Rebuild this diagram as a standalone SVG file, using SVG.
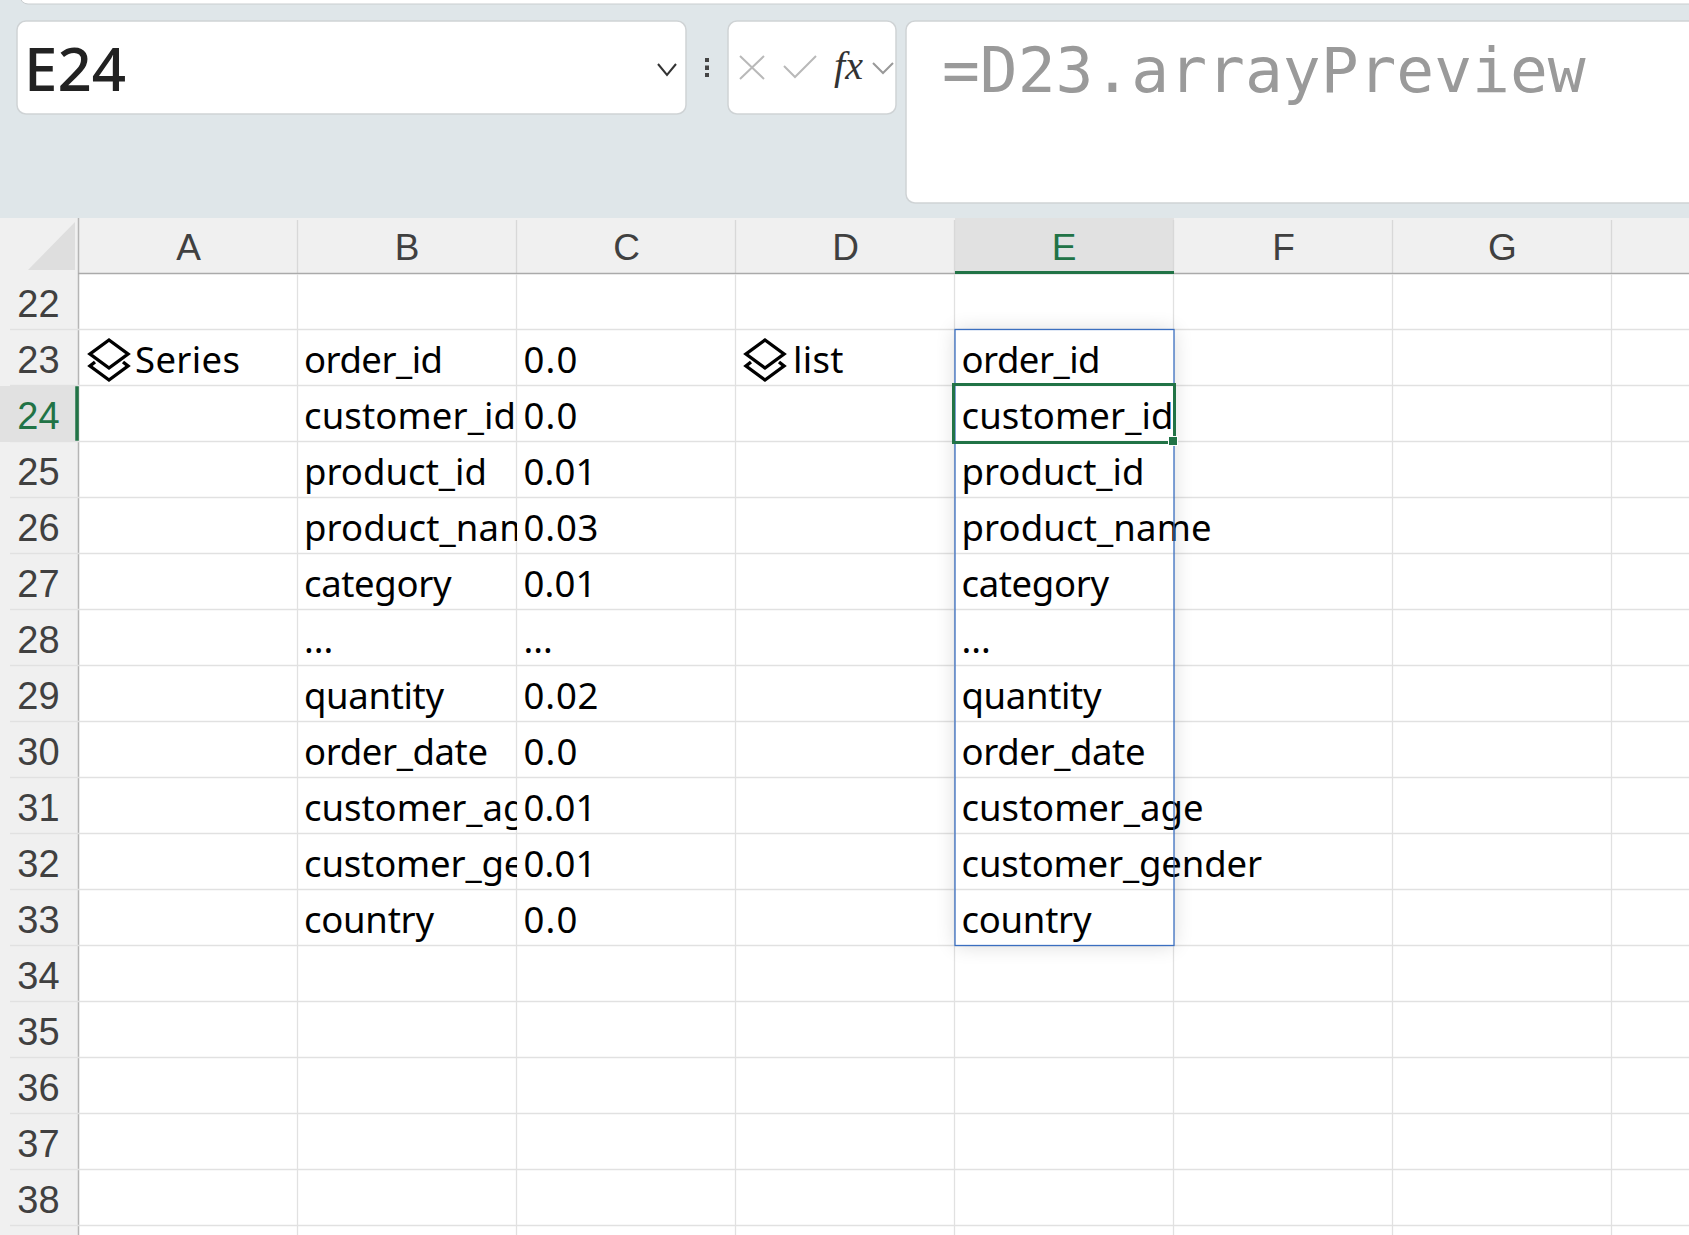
<svg xmlns="http://www.w3.org/2000/svg" width="1689" height="1235" viewBox="0 0 1689 1235">
<style>
.box{fill:#fff;stroke:#cfd3d5;stroke-width:1.5}
.g{stroke:#e1e1e1;stroke-width:1.3;fill:none}
.hd{font:37px "Liberation Sans",Arial,sans-serif;fill:#404040;text-anchor:middle}
.rn{font:38px "Liberation Sans",Arial,sans-serif;fill:#404040;text-anchor:middle}
.t{font:36.5px "Noto Sans",sans-serif;fill:#000}
.ic{fill:none;stroke:#000;stroke-width:3.4}
</style>
<defs>
<clipPath id="cb"><rect x="298" y="330" width="219" height="620"/></clipPath>
<clipPath id="ce"><rect x="955" y="386" width="219" height="56"/></clipPath>
<filter id="sh" x="-30%" y="-10%" width="160%" height="120%"><feGaussianBlur stdDeviation="10"/></filter>
<g id="layers"><path class="ic" d="M0 -19 L19 -5 L0 9 L-19 -5 Z"/><path class="ic" d="M-14 3 L-19 7 L0 21 L19 7 L14 3"/></g>
</defs>
<rect width="1689" height="218" fill="#dfe6e9"/>
<rect width="1689" height="1235" y="218" fill="#fff"/>
<g id="ribbon">
<rect x="20" y="-20" width="1680" height="24" rx="8" fill="#fff" stroke="#c9cdcf"/>
<rect class="box" x="17" y="21" width="669" height="93" rx="9"/>
<text x="24" y="91" font-family="'Noto Sans',sans-serif" font-size="60" font-weight="500" fill="#222">E24</text>
<path d="M658 64 L667 75 L676 64" fill="none" stroke="#333" stroke-width="2"/>
<path d="M707 58V62M707 65.500V70M707 73V77" stroke="#444" stroke-width="4" fill="none"/>
<rect class="box" x="728" y="21" width="168" height="93" rx="9"/>
<path d="M740 56 L764 79 M764 56 L740 79 M784 66 L795 77 L816 56" fill="none" stroke="#b9b9b9" stroke-width="2"/>
<text x="834" y="79" font-family="'Liberation Serif',serif" font-style="italic" font-size="40" fill="#333" textLength="29">fx</text>
<path d="M873 63 L883 73 L893 63" fill="none" stroke="#999" stroke-width="2"/>
<rect class="box" x="906" y="21" width="800" height="182" rx="9"/>
<text x="942" y="92" font-family="'DejaVu Sans Mono',monospace" font-size="62.900" fill="#9a9a9a">=D23.arrayPreview</text>
</g>
<g id="headers">
<rect x="0" y="218" width="1689" height="55" fill="#f0f0f0"/>
<rect x="0" y="273" width="78" height="962" fill="#f0f0f0"/>
<rect x="955" y="218" width="219" height="55" fill="#e1e1e1"/>
<rect x="0" y="386" width="78" height="56" fill="#e1e1e1"/>
<path d="M28 270 L75 270 L75 222 Z" fill="#dedede"/>
<path d="M297.500 220V273M516.500 220V273M735.500 220V273M954.500 220V273M1173.500 220V273M1392.500 220V273M1611.500 220V273" stroke="#d8d8d8" stroke-width="1.300"/>
<path d="M78.500 218V1235" stroke="#b5b5b5" stroke-width="1.500"/>
<path d="M78 273.500H1689" stroke="#aaa" stroke-width="1.500"/>
<path d="M955 272.500H1174" stroke="#217346" stroke-width="3"/>
<path d="M77 386V442" stroke="#217346" stroke-width="3.500"/>
<path d="M10 329.500H78M10 385.500H78M10 441.500H78M10 497.500H78M10 553.500H78M10 609.500H78M10 665.500H78M10 721.500H78M10 777.500H78M10 833.500H78M10 889.500H78M10 945.500H78M10 1001.500H78M10 1057.500H78M10 1113.500H78M10 1169.500H78M10 1225.500H78" class="g"/>
<g class="hd"><text x="188.500" y="260">A</text><text x="407" y="260">B</text><text x="626.500" y="260">C</text><text x="845.500" y="260">D</text><text x="1064" y="260" style="fill:#217346">E</text><text x="1283.500" y="260">F</text><text x="1502.500" y="260">G</text></g>
<g class="rn"><text x="38.500" y="317">22</text><text x="38.500" y="373">23</text><text x="38.500" y="429" style="fill:#217346">24</text><text x="38.500" y="485">25</text><text x="38.500" y="541">26</text><text x="38.500" y="597">27</text><text x="38.500" y="653">28</text><text x="38.500" y="709">29</text><text x="38.500" y="765">30</text><text x="38.500" y="821">31</text><text x="38.500" y="877">32</text><text x="38.500" y="933">33</text><text x="38.500" y="989">34</text><text x="38.500" y="1045">35</text><text x="38.500" y="1101">36</text><text x="38.500" y="1157">37</text><text x="38.500" y="1213">38</text></g>
</g>
<g id="grid">
<path class="g" d="M78 329.500H1689M78 385.500H1689M78 441.500H1689M78 497.500H1689M78 553.500H1689M78 609.500H1689M78 665.500H1689M78 721.500H1689M78 777.500H1689M78 833.500H1689M78 889.500H1689M78 945.500H1689M78 1001.500H1689M78 1057.500H1689M78 1113.500H1689M78 1169.500H1689M78 1225.500H1689"/>
<path class="g" d="M297.500 274V1235M516.500 274V1235M735.500 274V1235M954.500 274V1235M1173.500 274V1235M1392.500 274V1235M1611.500 274V1235"/>
</g>
<g id="spill-shadow"><rect x="955" y="330" width="219" height="616" fill="#000" opacity=".14" filter="url(#sh)"/><rect x="955" y="330" width="219" height="616" fill="#fff"/>
<path class="g" d="M955 385.500H1174M955 441.500H1174M955 497.500H1174M955 553.500H1174M955 609.500H1174M955 665.500H1174M955 721.500H1174M955 777.500H1174M955 833.500H1174M955 889.500H1174"/></g>
<g id="col-a"><use href="#layers" x="109" y="359"/><text class="t" x="135" y="373" textLength="105">Series</text></g>
<g id="col-b" class="t" clip-path="url(#cb)"><text x="304" y="373" textLength="139">order_id</text><text x="304" y="429" textLength="212">customer_id</text><text x="304" y="485" textLength="183">product_id</text><text x="304" y="541" textLength="250">product_name</text><text x="304" y="597" textLength="147.500">category</text><text x="304" y="653">...</text><text x="304" y="709" textLength="140">quantity</text><text x="304" y="765" textLength="184">order_date</text><text x="304" y="821" textLength="242">customer_age</text><text x="304" y="877" textLength="300.500">customer_gender</text><text x="304" y="933" textLength="130">country</text></g>
<g id="col-c" class="t"><text x="523.500" y="373" textLength="54">0.0</text><text x="523.500" y="429" textLength="54">0.0</text><text x="523.500" y="485" textLength="73">0.01</text><text x="523.500" y="541" textLength="75">0.03</text><text x="523.500" y="597" textLength="73">0.01</text><text x="523.500" y="653">...</text><text x="523.500" y="709" textLength="75">0.02</text><text x="523.500" y="765" textLength="54">0.0</text><text x="523.500" y="821" textLength="73">0.01</text><text x="523.500" y="877" textLength="73">0.01</text><text x="523.500" y="933" textLength="54">0.0</text></g>
<g id="col-d"><use href="#layers" x="765" y="359"/><text class="t" x="793" y="373" textLength="50.500">list</text></g>
<g id="col-e" class="t"><text x="961.500" y="373" textLength="139">order_id</text><text x="961.500" y="485" textLength="183">product_id</text><text x="961.500" y="541" textLength="250">product_name</text><text x="961.500" y="597" textLength="147.500">category</text><text x="961.500" y="653">...</text><text x="961.500" y="709" textLength="140">quantity</text><text x="961.500" y="765" textLength="184">order_date</text><text x="961.500" y="821" textLength="242">customer_age</text><text x="961.500" y="877" textLength="300.500">customer_gender</text><text x="961.500" y="933" textLength="130">country</text></g>
<g id="selection">
<rect x="955" y="329.500" width="219" height="616" fill="none" stroke="#3b6fc0" stroke-width="1.300"/>
<text class="t" x="961.500" y="429" clip-path="url(#ce)" textLength="212">customer_id</text>
<rect x="953.500" y="384.500" width="221" height="58" fill="none" stroke="#217346" stroke-width="3"/>
<rect x="1168.500" y="436.500" width="9" height="9" fill="#217346" stroke="#fff" stroke-width="1"/>
</g>
</svg>
